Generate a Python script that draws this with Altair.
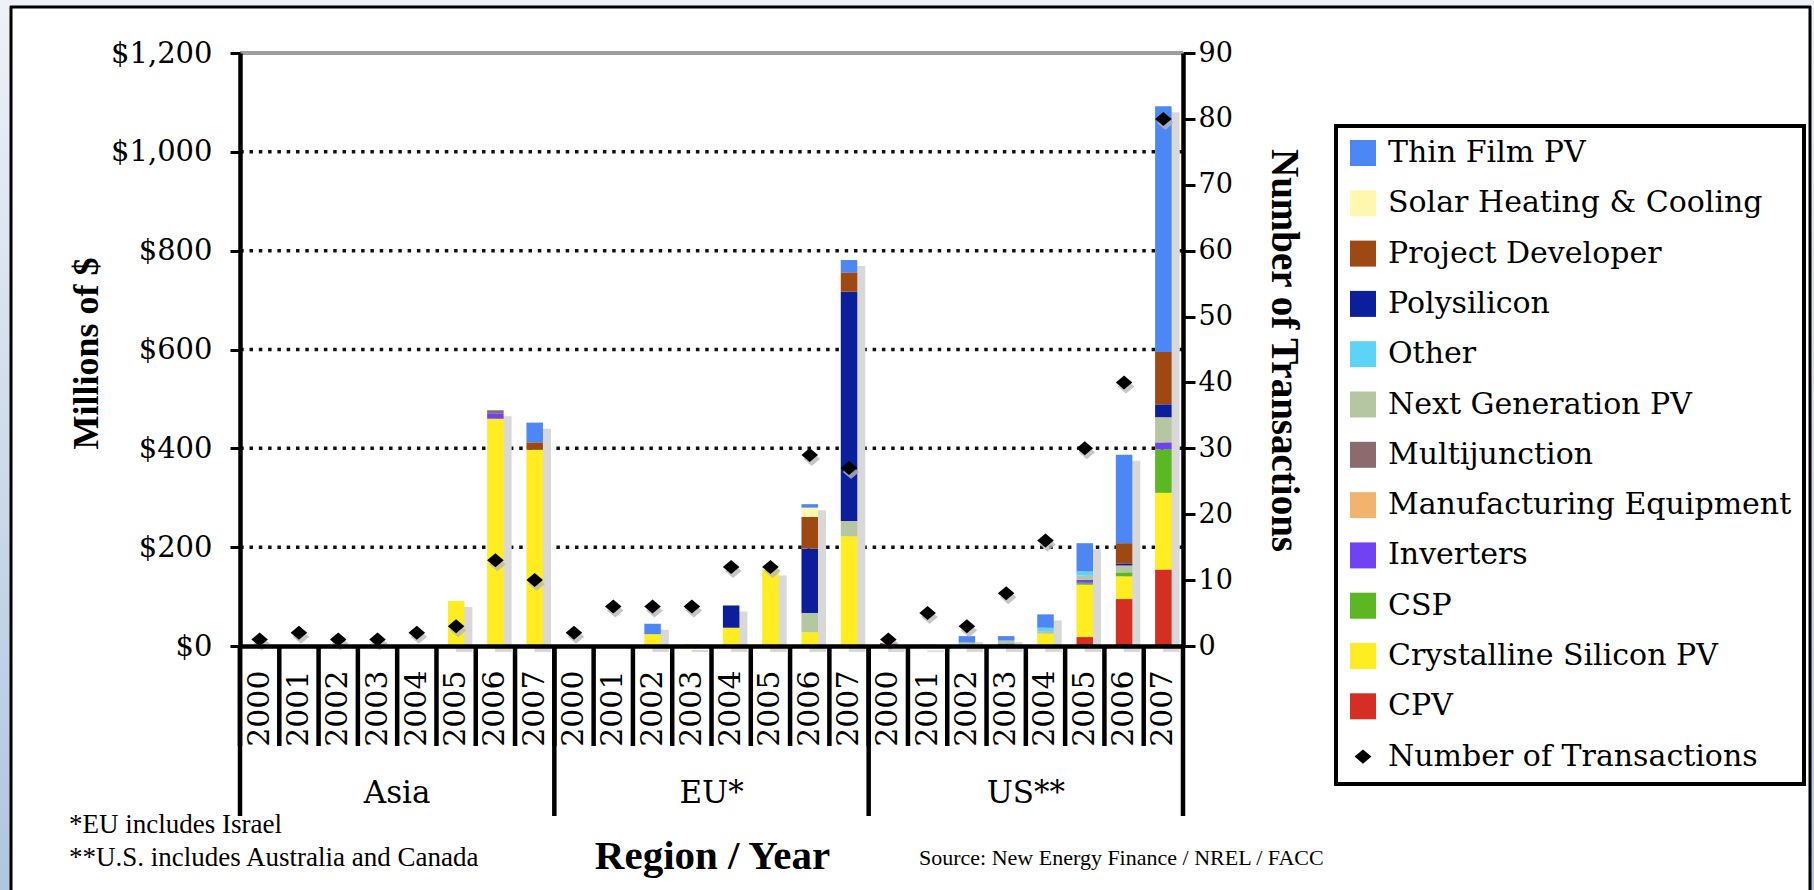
import altair as alt
import pandas as pd

# ---------------- data ----------------
regions = ["Asia", "EU*", "US**"]
years = ["2000", "2001", "2002", "2003", "2004", "2005", "2006", "2007"]
keys = [f"{r}|{y}" for r in regions for y in years]

legend_order = [
    "Thin Film PV", "Solar Heating & Cooling", "Project Developer", "Polysilicon",
    "Other", "Next Generation PV", "Multijunction", "Manufacturing Equipment",
    "Inverters", "CSP", "Crystalline Silicon PV", "CPV", "Number of Transactions",
]
legend_colors = [
    "#4d86f5", "#fff6b0", "#9e4813", "#0b1f9c", "#5dd3f7", "#b5c6a3",
    "#8c6a6e", "#f2b46c", "#7142f2", "#5cb822", "#ffec21", "#d42f22", "#000000",
]

# $ millions, order of keys: Asia 2000-2007, EU 2000-2007, US 2000-2007
cpv          = [0, 0, 0, 0, 0, 0, 0, 0,     0, 0, 0, 0, 0, 0, 0, 0,        6, 0, 0, 2, 0, 18, 95, 155]
crystalline  = [0, 0, 0, 0, 0, 91, 460, 397, 0, 0, 24, 4, 37, 155, 28, 222, 0, 0, 3, 0, 25, 106, 46, 155]
csp          = [0, 0, 0, 0, 0, 0, 0, 0,     0, 0, 0, 0, 0, 0, 0, 0,        0, 0, 0, 0, 0, 4, 8, 88]
inverters    = [0, 0, 0, 0, 0, 0, 11, 0,    0, 0, 0, 0, 0, 0, 0, 0,        0, 0, 0, 0, 0, 6, 0, 14]
manufacturing= [0, 0, 0, 0, 0, 0, 0, 0,     0, 0, 0, 0, 0, 0, 0, 0,        0, 0, 0, 0, 0, 0, 0, 0]
multijunction= [0, 0, 0, 0, 0, 0, 6, 0,     0, 0, 0, 0, 0, 0, 0, 0,        0, 0, 0, 3, 0, 0, 0, 0]
next_gen     = [0, 0, 0, 0, 0, 0, 0, 0,     0, 0, 0, 0, 0, 0, 39, 31,      0, 0, 4, 6, 5, 9, 14, 51]
other        = [0, 0, 0, 0, 0, 0, 0, 0,     0, 0, 0, 0, 0, 0, 0, 0,        0, 0, 0, 0, 7, 8, 0, 0]
polysilicon  = [0, 0, 0, 0, 0, 0, 0, 0,     0, 0, 0, 0, 45, 0, 130, 464,   0, 0, 0, 0, 0, 0, 4, 26]
project_dev  = [0, 0, 0, 0, 0, 0, 0, 15,    0, 0, 0, 0, 0, 0, 64, 39,      0, 0, 0, 0, 0, 0, 41, 106]
solar_heat   = [0, 0, 0, 0, 0, 0, 0, 0,     0, 0, 0, 0, 0, 0, 19, 0,       0, 0, 0, 0, 0, 0, 0, 0]
thin_film    = [0, 0, 0, 0, 0, 0, 0, 40,    0, 0, 21, 0, 0, 0, 7, 25,      0, 3, 13, 9, 27, 57, 179, 497]

transactions = [1, 2, 1, 1, 2, 3, 13, 10,   2, 6, 6, 6, 12, 12, 29, 27,    1, 5, 3, 8, 16, 30, 40, 80]

money_ticks = [0, 200, 400, 600, 800, 1000, 1200]
grid_values = [200, 400, 600, 800, 1000]
deal_ticks = [0, 10, 20, 30, 40, 50, 60, 70, 80, 90]

series_values = {
    "CPV": cpv, "Crystalline Silicon PV": crystalline, "CSP": csp, "Inverters": inverters,
    "Manufacturing Equipment": manufacturing, "Multijunction": multijunction,
    "Next Generation PV": next_gen, "Other": other, "Polysilicon": polysilicon,
    "Project Developer": project_dev, "Solar Heating & Cooling": solar_heat,
    "Thin Film PV": thin_film,
}
stack_order = list(series_values.keys())  # bottom -> top

rows = []
for s, vals in series_values.items():
    for k, v in zip(keys, vals):
        if v > 0:
            rows.append({"key": k, "series": s, "value": v, "stack": stack_order.index(s)})
bars_df = pd.DataFrame(rows)

trans_df = pd.DataFrame({"key": keys, "n": transactions, "series": "Number of Transactions"})
sep_df = pd.DataFrame({"key": keys})
group_df = pd.DataFrame({"key": [f"{r}|2000" for r in regions]})
end_df = pd.DataFrame({"key": [keys[-1]]})
region_df = pd.DataFrame({"key": [f"{r}|2004" for r in regions], "region": regions})
top_df = pd.DataFrame({"v": [1200]})
grid_df = pd.DataFrame({"g": grid_values})
one = pd.DataFrame({"a": [0]})

# ---------------- geometry ----------------
W, H = 943, 593
PL, PT = 240, 53

SERIF = "DejaVu Serif"
TITLE_FONT = "Liberation Serif"

diamond = "M0,-0.55L0.65,0L0,0.55L-0.65,0Z"
shapes = ["square"] * 12 + [diamond]

xscale = alt.Scale(domain=keys, paddingInner=0, paddingOuter=0)
yscale = alt.Scale(domain=[0, 1200], nice=False)
tscale = alt.Scale(domain=[0, 90], nice=False)
cscale = alt.Scale(domain=legend_order, range=legend_colors)
sscale = alt.Scale(domain=legend_order, range=shapes)

legend = alt.Legend(
    title=None, orient="none", legendX=1096, legendY=73, direction="vertical",
    symbolSize=676, symbolStrokeWidth=0, symbolOpacity=1,
    labelFont=SERIF, labelFontSize=30, labelColor="black", labelLimit=700,
    labelOffset=10, rowPadding=20.3, padding=12,
    strokeColor="black", fillColor="white",
)

x_axis = alt.Axis(
    labelExpr="split(datum.value, '|')[1]", labelAngle=270, labelAlign="right",
    labelBaseline="middle", labelFont=SERIF, labelFontSize=30, labelColor="black",
    labelPadding=24, ticks=False, domainWidth=4.5, domainColor="black", grid=False,
    title="Region / Year", titleFont=TITLE_FONT, titleFontSize=41, titleFontWeight="bold",
    titleColor="black", titleX=472, titleY=210, titleAlign="center", titleBaseline="middle",
    labelOverlap=False, zindex=2,
)

y_axis = alt.Axis(
    values=money_ticks, format="$,.0f",
    labelFont=SERIF, labelFontSize=29, labelColor="black", labelPadding=18,
    tickSize=10, tickWidth=3, tickColor="black", domainWidth=4.5, domainColor="black",
    grid=False,
    title="Millions of $", titleFont=TITLE_FONT, titleFontSize=36, titleFontWeight="bold",
    titleColor="black", titleAngle=270, titleX=-154, titleY=300, titleAlign="center",
    titleBaseline="middle", zindex=2,
)

t_axis = alt.Axis(
    orient="right", values=deal_ticks, labelFont=SERIF, labelFontSize=27,
    labelColor="black", labelPadding=3, tickSize=12, tickWidth=3, tickColor="black",
    domainWidth=4.5, domainColor="black", grid=False,
    title="Number of Transactions", titleFont=TITLE_FONT, titleFontSize=39,
    titleFontWeight="bold", titleColor="black", titleAngle=90, titleX=100, titleY=297,
    titleAlign="center", titleBaseline="middle", zindex=2,
)

X = alt.X("key:N", scale=xscale, axis=x_axis)

# ---------------- decorations (strips outside the frame only) ----------------
grad = alt.LinearGradient(
    gradient="linear", x1=0, y1=0, x2=0, y2=1,
    stops=[alt.GradientStop(color="#eef1f7", offset=0), alt.GradientStop(color="#aec6e0", offset=1)],
)
left_strip = alt.Chart(one).mark_rect(color=grad).encode(
    x=alt.value(-PL), x2=alt.value(10 - PL), y=alt.value(-PT), y2=alt.value(890 - PT))
right_strip = alt.Chart(one).mark_rect(color=grad).encode(
    x=alt.value(1811 - PL), x2=alt.value(1814 - PL), y=alt.value(-PT), y2=alt.value(890 - PT))
top_strip = alt.Chart(one).mark_rect(color="#eef1f7").encode(
    x=alt.value(-PL), x2=alt.value(1814 - PL), y=alt.value(-PT), y2=alt.value(6 - PT))
frame_left = alt.Chart(one).mark_rule(color="black", strokeWidth=3).encode(
    x=alt.value(11 - PL), y=alt.value(6 - PT), y2=alt.value(890 - PT))
frame_right = alt.Chart(one).mark_rule(color="black", strokeWidth=3).encode(
    x=alt.value(1810 - PL), y=alt.value(6 - PT), y2=alt.value(890 - PT))
frame_top = alt.Chart(one).mark_rule(color="black", strokeWidth=3).encode(
    x=alt.value(10 - PL), x2=alt.value(1811 - PL), y=alt.value(7 - PT))

# ---------------- money layer ----------------
bars = alt.Chart(bars_df).mark_bar(width=alt.RelativeBandSize(0.42)).encode(
    x=X,
    y=alt.Y("value:Q", stack="zero", scale=yscale, axis=y_axis),
    color=alt.Color("series:N", scale=cscale, legend=legend),
    order=alt.Order("stack:Q", sort="ascending"),
)

grid = alt.Chart(grid_df).mark_rule(color="#111111", strokeWidth=3.5, strokeDash=[3.5, 5.8]).encode(
    y=alt.Y("g:Q", scale=yscale, axis=y_axis)
)

top_line = alt.Chart(top_df).mark_rule(color="#9e9e9e", strokeWidth=4).encode(
    y=alt.Y("v:Q", scale=yscale, axis=y_axis)
)

shadow = alt.Chart(bars_df).transform_aggregate(
    total="sum(value)", groupby=["key"]
).mark_bar(color="#d8d8d8", width=alt.RelativeBandSize(0.42), xOffset=8, yOffset=6).encode(
    x=X,
    y=alt.Y("total:Q", scale=yscale, axis=y_axis),
)

money = alt.layer(grid, top_line, shadow, bars)

# ---------------- transactions layer ----------------
points = alt.Chart(trans_df).mark_point(filled=True, size=650, opacity=1).encode(
    x=X,
    y=alt.Y("n:Q", scale=tscale, axis=t_axis),
    color=alt.Color("series:N", scale=cscale, legend=legend),
    shape=alt.Shape("series:N", scale=sscale, legend=legend),
)

pt_shadow = alt.Chart(trans_df).mark_point(
    filled=True, size=650, shape=diamond, color="#b8b8b8", opacity=0.8, xOffset=2, yOffset=4
).encode(
    x=X,
    y=alt.Y("n:Q", scale=tscale, axis=t_axis),
)

deals = alt.layer(pt_shadow, points)

# ---------------- category separators and region labels ----------------
short_sep = alt.Chart(sep_df).mark_rule(color="black", strokeWidth=4.5).encode(
    x=alt.X("key:N", scale=xscale, axis=x_axis, bandPosition=0),
    y=alt.value(H), y2=alt.value(H + 100),
)
long_sep = alt.Chart(group_df).mark_rule(color="black", strokeWidth=4.5).encode(
    x=alt.X("key:N", scale=xscale, axis=x_axis, bandPosition=0),
    y=alt.value(H), y2=alt.value(H + 170),
)
end_sep = alt.Chart(end_df).mark_rule(color="black", strokeWidth=4.5).encode(
    x=alt.X("key:N", scale=xscale, axis=x_axis, bandPosition=1),
    y=alt.value(H), y2=alt.value(H + 170),
)
region_text = alt.Chart(region_df).mark_text(
    font=SERIF, fontSize=31, baseline="middle", align="center", color="black"
).encode(
    x=alt.X("key:N", scale=xscale, axis=x_axis, bandPosition=0),
    y=alt.value(741), text="region:N",
)

# ---------------- notes ----------------
note1 = alt.Chart(one).mark_text(font=TITLE_FONT, fontSize=27, align="left", baseline="middle", color="black").encode(
    x=alt.value(69 - PL), y=alt.value(825 - PT), text=alt.value("*EU includes Israel"))
note2 = alt.Chart(one).mark_text(font=TITLE_FONT, fontSize=27, align="left", baseline="middle", color="black").encode(
    x=alt.value(69 - PL), y=alt.value(858 - PT), text=alt.value("**U.S. includes Australia and Canada"))
source = alt.Chart(one).mark_text(font=TITLE_FONT, fontSize=22, align="left", baseline="middle", color="black").encode(
    x=alt.value(919 - PL), y=alt.value(858 - PT), text=alt.value("Source: New Energy Finance / NREL / FACC"))

chart = alt.layer(
    money, deals, short_sep, long_sep, end_sep, region_text, note1, note2, source,
    left_strip, right_strip, top_strip, frame_left, frame_right, frame_top,
).resolve_scale(
    y="independent"
).properties(
    width=W, height=H,
    autosize=alt.AutoSizeParams(type="none"),
    padding={"left": PL, "top": PT, "right": 1814 - PL - W, "bottom": 890 - PT - H},
    background="white",
).configure_view(
    stroke=None
).configure_legend(
    strokeWidth=4
)

chart.save("out.html", embed_options={"renderer": "svg", "actions": False})
